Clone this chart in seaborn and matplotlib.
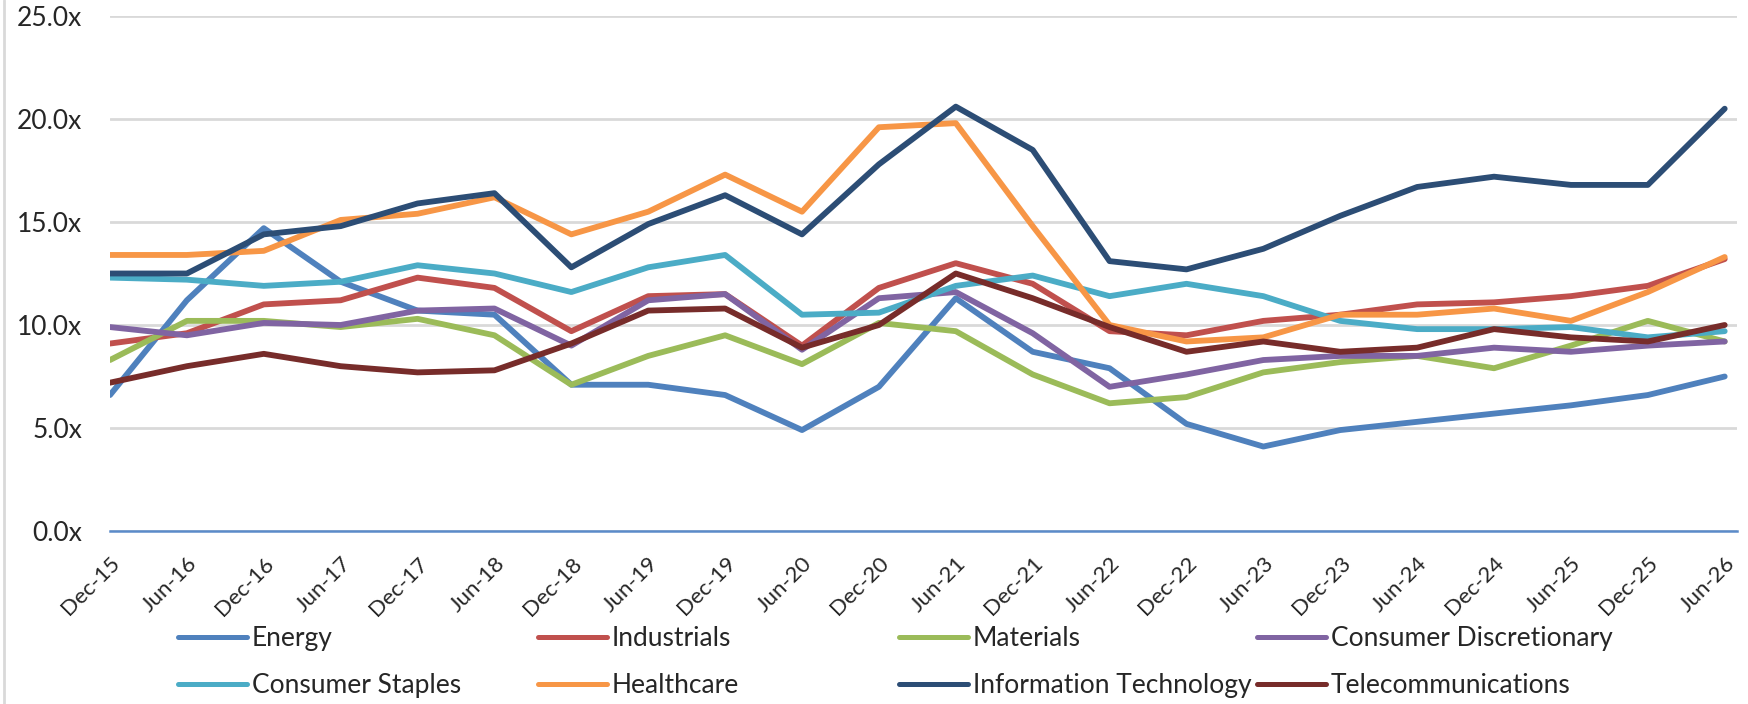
import pandas as pd
import numpy as np
import matplotlib.pyplot as plt
import seaborn as sns
from matplotlib.lines import Line2D

# Forward P/E by sector
periods = ['Dec-15', 'Jun-16', 'Dec-16', 'Jun-17', 'Dec-17', 'Jun-18', 'Dec-18', 'Jun-19',
           'Dec-19', 'Jun-20', 'Dec-20', 'Jun-21', 'Dec-21', 'Jun-22', 'Dec-22', 'Jun-23',
           'Dec-23', 'Jun-24', 'Dec-24', 'Jun-25', 'Dec-25', 'Jun-26']

energy = [6.6, 11.2, 14.7, 12.1, 10.7, 10.5, 7.1, 7.1, 6.6, 4.9, 7.0, 11.3,
          8.7, 7.9, 5.2, 4.1, 4.9, 5.3, 5.7, 6.1, 6.6, 7.5]
industrials = [9.1, 9.6, 11.0, 11.2, 12.3, 11.8, 9.7, 11.4, 11.5, 9.0, 11.8, 13.0,
               12.0, 9.7, 9.5, 10.2, 10.5, 11.0, 11.1, 11.4, 11.9, 13.2]
materials = [8.3, 10.2, 10.2, 9.9, 10.3, 9.5, 7.1, 8.5, 9.5, 8.1, 10.1, 9.7,
             7.6, 6.2, 6.5, 7.7, 8.2, 8.5, 7.9, 9.0, 10.2, 9.2]
cons_disc = [9.9, 9.5, 10.1, 10.0, 10.7, 10.8, 9.0, 11.2, 11.5, 8.8, 11.3, 11.6,
             9.6, 7.0, 7.6, 8.3, 8.5, 8.5, 8.9, 8.7, 9.0, 9.2]
cons_staples = [12.3, 12.2, 11.9, 12.1, 12.9, 12.5, 11.6, 12.8, 13.4, 10.5, 10.6, 11.9,
                12.4, 11.4, 12.0, 11.4, 10.2, 9.8, 9.8, 9.9, 9.4, 9.7]
healthcare = [13.4, 13.4, 13.6, 15.1, 15.4, 16.2, 14.4, 15.5, 17.3, 15.5, 19.6, 19.8,
              14.8, 10.0, 9.2, 9.4, 10.5, 10.5, 10.8, 10.2, 11.6, 13.3]
info_tech = [12.5, 12.5, 14.4, 14.8, 15.9, 16.4, 12.8, 14.9, 16.3, 14.4, 17.8, 20.6,
             18.5, 13.1, 12.7, 13.7, 15.3, 16.7, 17.2, 16.8, 16.8, 20.5]
telecom = [7.2, 8.0, 8.6, 8.0, 7.7, 7.8, 9.1, 10.7, 10.8, 8.9, 10.0, 12.5,
           11.3, 9.9, 8.7, 9.2, 8.7, 8.9, 9.8, 9.4, 9.2, 10.0]

sectors = ['Energy', 'Industrials', 'Materials', 'Consumer Discretionary',
           'Consumer Staples', 'Healthcare', 'Information Technology', 'Telecommunications']
colors = ['#4F81BD', '#C0504D', '#9BBB59', '#8064A2',
          '#4BACC6', '#F79646', '#2C4D75', '#772C2A']
series = [energy, industrials, materials, cons_disc, cons_staples, healthcare, info_tech, telecom]

df = pd.DataFrame({s: v for s, v in zip(sectors, series)})
df['idx'] = np.arange(len(periods))
long_df = df.melt(id_vars='idx', var_name='sector', value_name='pe')

sns.set_style('white')
plt.rcParams['font.family'] = ['Lato', 'DejaVu Sans']

fig = plt.figure(figsize=(17.48, 7.04), dpi=100)
ax = fig.add_axes([110 / 1748, 173 / 704, (1737 - 110) / 1748, (531 - 16) / 704])

sns.lineplot(data=long_df, x='idx', y='pe', hue='sector', hue_order=sectors,
             palette=colors, linewidth=4.2, legend=False, ax=ax)

ax.set_xlim(0, 21.16)
ax.set_ylim(0, 25)
ax.set_yticks(np.arange(0, 26, 5))
ax.set_yticklabels([f'{v:.1f}x' for v in np.arange(0, 26, 5)], fontsize=19)
ax.set_xticks(np.arange(len(periods)))
ax.set_xticklabels(periods, rotation=45, ha='right', rotation_mode='anchor', fontsize=16)
ax.set_xlabel('')
ax.set_ylabel('')

ax.grid(axis='y', color='#D9D9D9', linewidth=2)
ax.grid(axis='x', visible=False)
ax.set_axisbelow(True)
for side in ['top', 'right', 'left']:
    ax.spines[side].set_visible(False)
ax.spines['bottom'].set_color('#5B8BC9')
ax.spines['bottom'].set_linewidth(1.8)
ax.tick_params(axis='x', direction='out', length=6, width=1.6, color='#5B8BC9', pad=10)
ax.tick_params(axis='y', length=0, pad=20)

# legend: four columns, two rows, laid out like the Excel legend
handles = ax.get_lines()[:8]
col_x = [178, 538, 899, 1257]
for i, x in enumerate(col_x):
    leg = fig.legend([handles[i], handles[i + 4]], [sectors[i], sectors[i + 4]],
                     loc='upper left', bbox_to_anchor=(x / 1748, 1 - 626 / 704),
                     frameon=False, fontsize=19, handlelength=2.6, handletextpad=0.2,
                     labelspacing=0.85, borderpad=0, borderaxespad=0)
    for ln in leg.get_lines():
        ln.set_linewidth(3.6)

# thin grey border at left edge of the picture
fig.add_artist(Line2D([0.0025, 0.0025], [0, 1], transform=fig.transFigure,
                      color='#D9D9D9', linewidth=2))

fig.savefig('out.png', dpi=100)
